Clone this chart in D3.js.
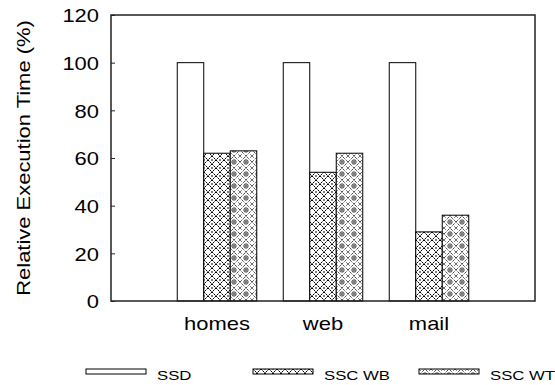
<!DOCTYPE html>
<html lang="en">
<head>
    <meta charset="UTF-8">
    <title>Relative Execution Time</title>
    <style>
        body { margin: 0; background: #fff; }
        text { font-family: "Liberation Sans", Arial, sans-serif; fill: #000; }
    </style>
</head>
<body>
<svg height="385" width="555"></svg>

<script src="https://cdn.jsdelivr.net/npm/d3@7"></script>
<script>

    var workloads = ['homes', 'web', 'mail'];
    var seriesNames = ['SSD', 'SSC WB', 'SSC WT'];
    var ssd = [100, 100, 100];
    var sscWB = [62, 54, 29];
    var sscWT = [63, 62, 36];
    var yTicks = [0, 20, 40, 60, 80, 100, 120];

    var allSeries = [ssd, sscWB, sscWT];

    var plot = {left: 111, right: 535, top: 15, bottom: 301};
    var stretch = 1.18;   // source fonts are wider than Liberation Sans

    var svg = d3.select("svg");
    var defs = svg.append("defs");

    // cross hatch with dots (write back)
    var wb = defs.append("pattern").attr("id", "wb")
        .attr("patternUnits", "userSpaceOnUse").attr("width", 8).attr("height", 8);
    wb.append("rect").attr("width", 8).attr("height", 8).attr("fill", "#fff");
    wb.append("path").attr("d", "M0,0L8,8M8,0L0,8")
        .attr("stroke", "#000").attr("stroke-width", 1).attr("stroke-dasharray", "2.2,0.6");
    wb.append("rect").attr("x", 3.3).attr("y", -0.7).attr("width", 1.4).attr("height", 1.4).attr("fill", "#000");
    wb.append("rect").attr("x", 3.3).attr("y", 7.3).attr("width", 1.4).attr("height", 1.4).attr("fill", "#000");

    // dotted diamonds with circled plus (write through)
    var wt = defs.append("pattern").attr("id", "wt")
        .attr("patternUnits", "userSpaceOnUse").attr("width", 12).attr("height", 12);
    wt.append("rect").attr("width", 12).attr("height", 12).attr("fill", "#fff");
    wt.append("path").attr("d", "M0,6L6,0L12,6L6,12Z")
        .attr("fill", "none").attr("stroke", "#000").attr("stroke-width", 1).attr("stroke-dasharray", "1,1");
    wt.append("path").attr("d", "M0,0L2,2M12,0L10,2M0,12L2,10M12,12L10,10")
        .attr("stroke", "#000").attr("stroke-width", 0.8).attr("stroke-dasharray", "1,1");
    wt.append("circle").attr("cx", 6).attr("cy", 6).attr("r", 2.2)
        .attr("fill", "none").attr("stroke", "#000").attr("stroke-width", 0.7);
    wt.append("path").attr("d", "M6,4.3V7.7M4.3,6H7.7")
        .attr("stroke", "#000").attr("stroke-width", 0.6);

    var fills = ["#fff", "url(#wb)", "url(#wt)"];

    var y = d3.scaleLinear().domain([0, 120]).range([plot.bottom, plot.top]);
    // groups sit at slots 1..3 of a 0..4 scale
    var x = d3.scaleLinear().domain([0, workloads.length + 1]).range([plot.left, plot.right]);
    var slot = x(1) - x(0);
    var barW = slot * 0.25;

    var bars = [];
    workloads.forEach(function(w, i) {
        allSeries.forEach(function(s, j) {
            bars.push({cat: i, series: j, value: s[i]});
        });
    });

    svg.append("g").selectAll("rect")
        .data(bars)
        .enter().append("rect")
        .attr("x", function(d) { return x(d.cat + 1) + (d.series - 1.5) * barW; })
        .attr("y", function(d) { return y(d.value); })
        .attr("width", barW)
        .attr("height", function(d) { return y(0) - y(d.value); })
        .attr("fill", function(d) { return fills[d.series]; })
        .attr("stroke", "#000")
        .attr("stroke-width", 1);

    // frame
    svg.append("rect")
        .attr("x", plot.left).attr("y", plot.top)
        .attr("width", plot.right - plot.left).attr("height", plot.bottom - plot.top)
        .attr("fill", "none").attr("stroke", "#222").attr("stroke-width", 1.5);

    var yAxis = svg.append("g")
        .attr("transform", "translate(" + plot.left + ",0)")
        .call(d3.axisLeft(y).tickValues(yTicks).tickSize(-4).tickPadding(12));
    yAxis.select(".domain").remove();
    yAxis.selectAll("line").attr("stroke", "#222");
    yAxis.selectAll("text").attr("font-size", 18.6).attr("font-family", null).attr("dy", "0.36em");

    svg.append("g").selectAll("text")
        .data(workloads)
        .enter().append("text")
        .attr("x", function(d, i) { return x(i + 1); })
        .attr("y", 330)
        .attr("text-anchor", "middle")
        .attr("font-size", 18.6)
        .text(function(d) { return d; });

    svg.append("text")
        .attr("transform", "translate(30," + ((plot.top + plot.bottom) / 2) + ") rotate(-90)")
        .attr("text-anchor", "middle")
        .attr("font-size", 18.6)
        .text("Relative Execution Time (%)");

    // legend
    var legendX = [86, 253, 419];
    var legend = svg.append("g").selectAll("g")
        .data(seriesNames)
        .enter().append("g")
        .attr("transform", function(d, i) { return "translate(" + legendX[i] + ",369)"; });
    legend.append("rect")
        .attr("width", 60).attr("height", 5)
        .attr("fill", function(d, i) { return fills[i]; })
        .attr("stroke", "#000").attr("stroke-width", 1);
    legend.append("text")
        .attr("class", "legend-label")
        .attr("x", 71).attr("y", 11)
        .attr("font-size", 13.5)
        .text(function(d) { return d; });

    svg.selectAll("text").each(function() {
        var k = this.getAttribute("class") === "legend-label" ? 1.24 : stretch;
        var len = this.getComputedTextLength();
        this.setAttribute("textLength", len * k);
        this.setAttribute("lengthAdjust", "spacingAndGlyphs");
    });

</script>
</body>
</html>
